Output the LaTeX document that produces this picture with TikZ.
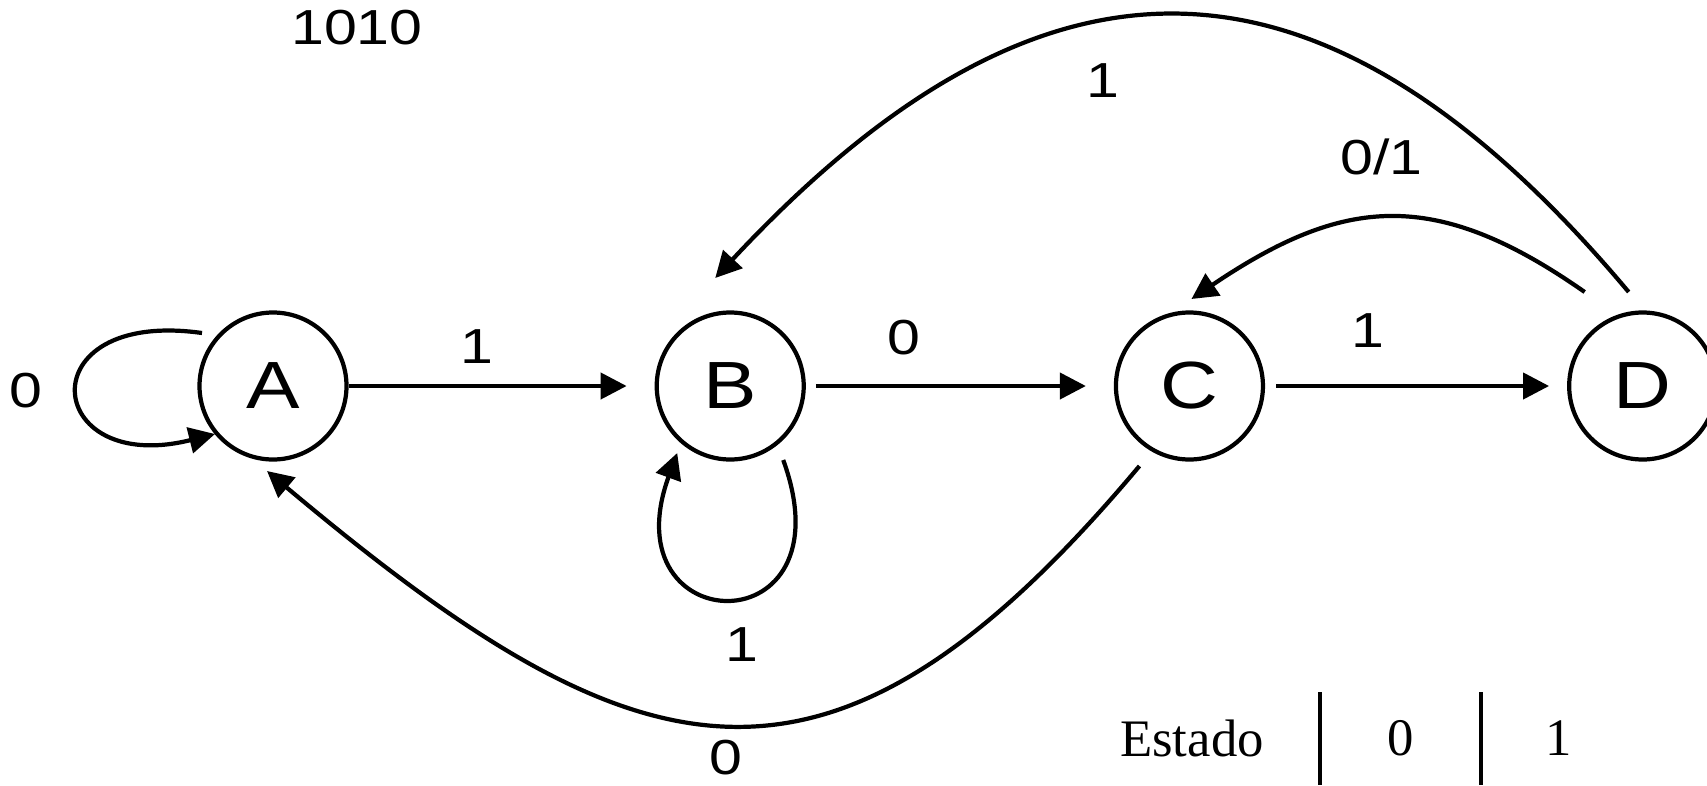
\documentclass[tikz,border=0pt]{standalone}
\usepackage{fontspec}
\setmainfont{Liberation Sans}[FakeStretch=1.2]
\newfontfamily\tabfont{Liberation Serif}
\usepackage{tikz}
\usetikzlibrary{arrows.meta, positioning}

\begin{document}
\begin{tikzpicture}[
  node distance=3.06cm,
  state/.style={circle, draw, line width=1.2pt, minimum size=1.47cm, inner sep=0pt, font=\fontsize{19}{21}\selectfont},
  lbl/.style={font=\fontsize{14}{16}\selectfont, inner sep=1pt},
  tablbl/.style={font=\tabfont\fontsize{15}{17}\selectfont},
  arrow/.style={-{Triangle[length=2.6mm, width=2.6mm]}, line width=1.2pt},
  rule/.style={line width=1pt}
]
  \useasboundingbox (0,0) rectangle (17.07,-7.85);
  \node[state] (A) at (2.73,-3.86) {A};
  \node[state, right=of A] (B) {B};
  \node[state, right=3.08cm of B] (C) {C};
  \node[state, right=3.02cm of C] (D) {D};
  \node[font=\fontsize{14}{16}\selectfont] (seq) at (3.57,-0.28) {1010};

  \draw[arrow, shorten >=2.8mm] (A) -- node[lbl, pos=0.42, above=0.17cm] {1} (B);
  \draw[arrow, shorten <=1mm, shorten >=2.8mm] (B) -- node[lbl, pos=0.32, above=0.25cm] {0} (C);
  \draw[arrow, shorten <=1.1mm, shorten >=1.8mm] (C) -- node[lbl, pos=0.34, above=0.33cm] {1} (D);
  % lazos
  \draw[arrow] ([shift={(-0.71,0.53)}]A.center) to[out=172, in=194, looseness=4.46]
    node[lbl, left=0.3cm] {0} ([shift={(-0.58,-0.48)}]A.center);
  \draw[arrow] ([shift={(0.53,-0.74)}]B.center) to[out=290, in=250, looseness=4.84]
    node[lbl, below=0.24cm, xshift=0.12cm] {1} ([shift={(-0.53,-0.67)}]B.center);
  % arcos de retorno
  \draw[arrow] ([shift={(-0.58,0.94)}]D.center) to[out=145, in=34, looseness=1.19]
    node[lbl, pos=0.52, above=0.37cm] {0/1} ([shift={(0.02,0.87)}]C.center);
  \draw[arrow] ([shift={(-0.14,0.94)}]D.center) to[out=130, in=47, looseness=1.34]
    node[lbl, pos=0.585, below=0.35cm] {1} ([shift={(-0.15,1.08)}]B.center);
  \draw[arrow] ([shift={(-0.5,-0.8)}]C.center) to[out=230, in=-40, looseness=1.42]
    node[lbl, pos=0.5, below=0.1cm] {0} ([shift={(-0.06,-0.85)}]A.center);

  % tabla de estados
  \node[tablbl] (estado) at (11.92,-7.38) {Estado};
  \node[tablbl] (in0) at (14.01,-7.38) {0};
  \node[tablbl] (in1) at (15.59,-7.38) {1};
  \draw[rule] (13.20,-6.92) -- (13.20,-7.85);
  \draw[rule] (14.81,-6.92) -- (14.81,-7.85);
\end{tikzpicture}
\end{document}
